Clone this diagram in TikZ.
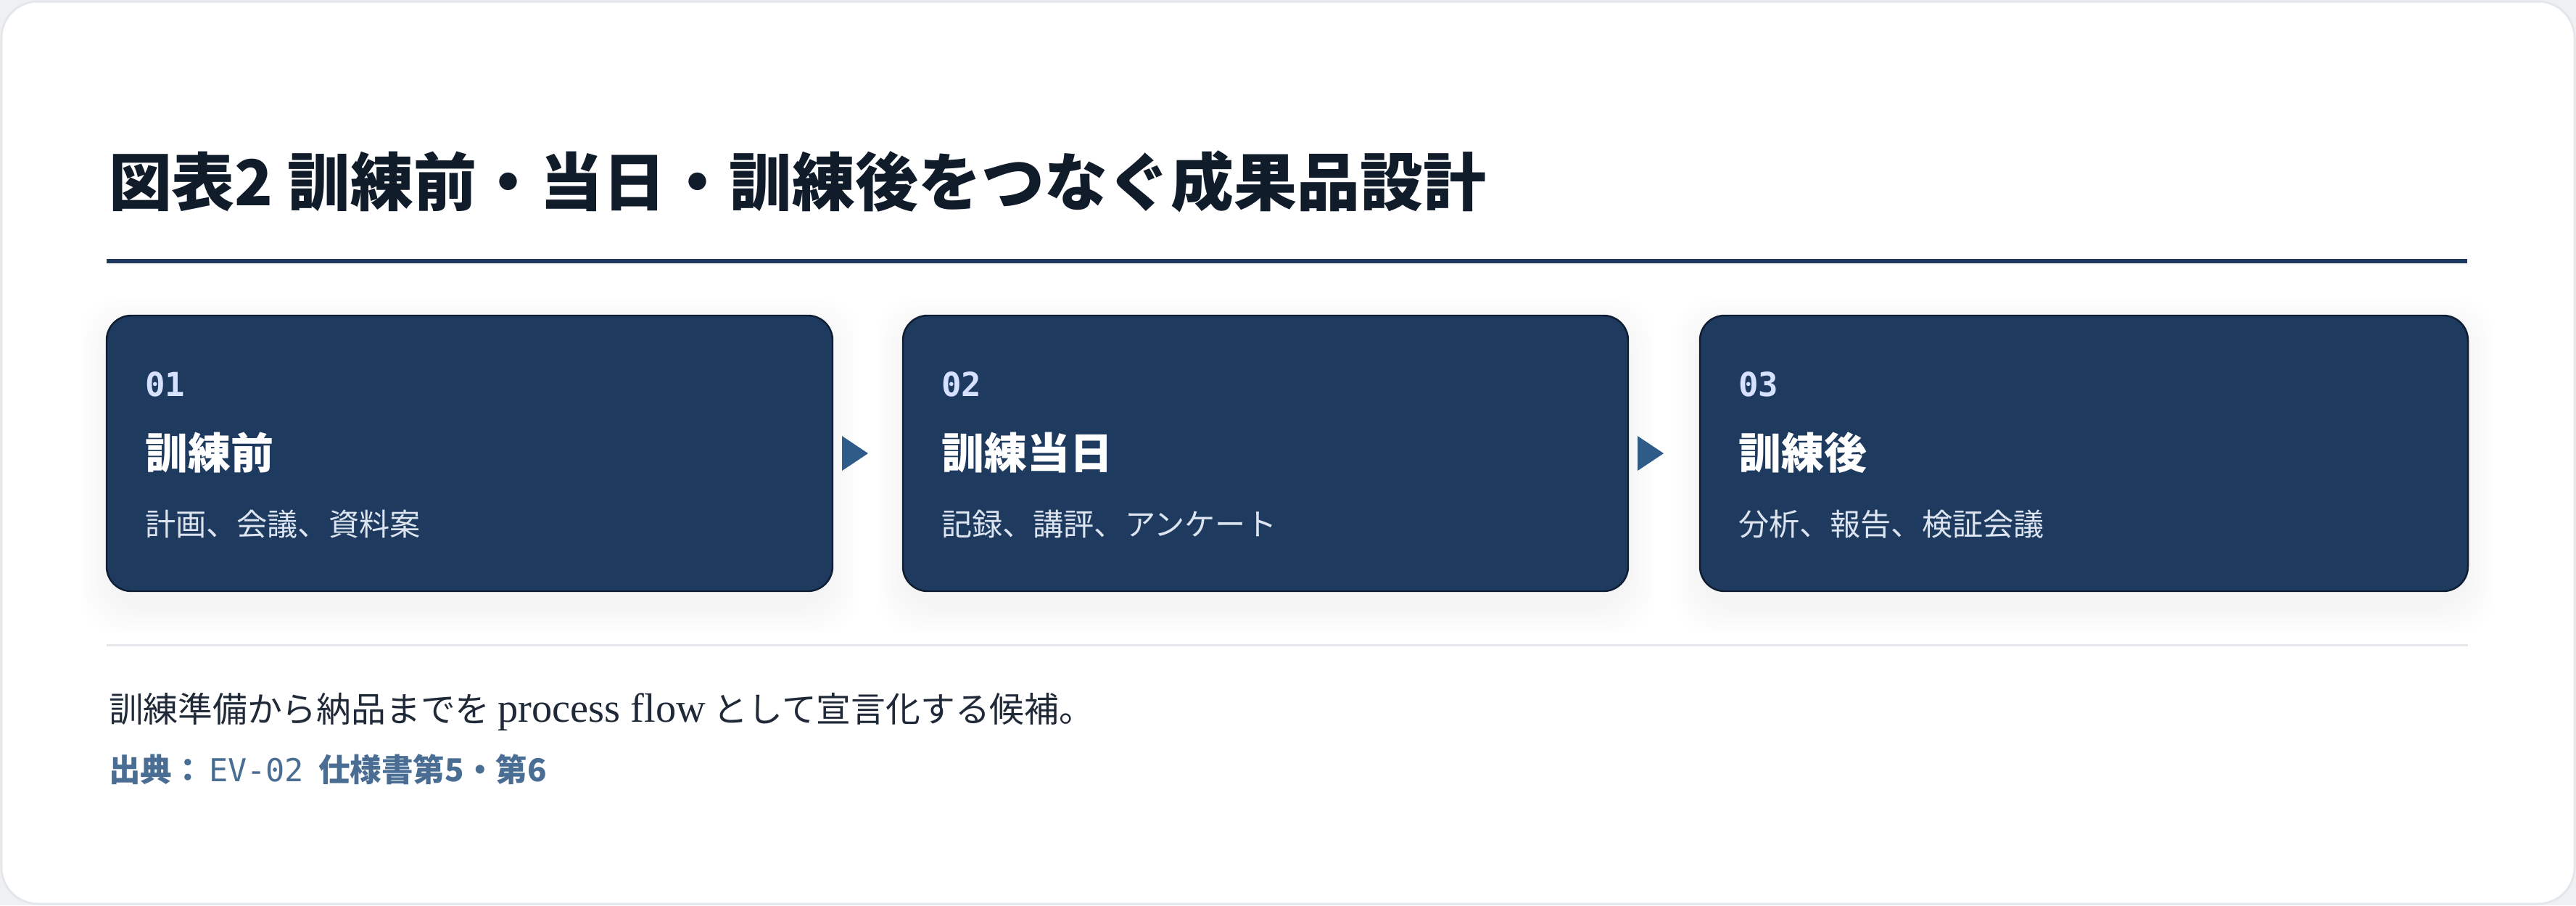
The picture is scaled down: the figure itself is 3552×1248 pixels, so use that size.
\documentclass[tikz,border=0pt]{standalone}
\usepackage{fontspec}
\newfontfamily\cjk{Noto Sans CJK JP}
\newfontfamily\monof{DejaVu Sans Mono}
\newfontfamily\serifl[Scale=1.18]{Liberation Serif}
\usetikzlibrary{calc}

\definecolor{pagegray}{HTML}{EEF0F2}
\definecolor{framegray}{HTML}{E3E6EA}
\definecolor{navy}{HTML}{1E3A5F}
\definecolor{navyedge}{HTML}{0F1E33}
\definecolor{flowblue}{HTML}{2F5B88}
\definecolor{titleink}{HTML}{111C2B}
\definecolor{capink}{HTML}{1F2937}
\definecolor{srcblue}{HTML}{4A6D94}
\definecolor{numink}{HTML}{D6E0FF}
\definecolor{subink}{HTML}{DCE4F0}
\definecolor{sepgray}{HTML}{E5E7EB}

\begin{document}
\begin{tikzpicture}[x=0.1mm,y=-0.1mm,
    card/.style={anchor=north west,minimum height=38mm,inner sep=0,outer sep=0,
      rounded corners=3.4mm,fill=navy,draw=navyedge,line width=0.7pt},
    haze/.style={black,opacity=0.0045,rounded corners=5mm},
    txt/.style={anchor=base west,inner sep=0,outer sep=0}]

  % page and frame
  \fill[pagegray] (0,0) rectangle (3552,1248);
  \useasboundingbox (0,0) rectangle (3552,1248);
  \draw[framegray,line width=0.85pt,fill=white,rounded corners=5mm] (2,2) rectangle (3550,1246);

  % title
  \node[txt,text=titleink,font=\cjk\bfseries\fontsize{24.75}{28}\selectfont] (title) at (150,283)
    {図表2 訓練前・当日・訓練後をつなぐ成果品設計};
  \draw[navy,line width=1.7pt] (147,360) -- (3402,360);

  % cards
  \foreach \n/\x/\w/\head/\sub in {1/147/100.1/訓練前/{計画、会議、資料案},
      2/1245/100/訓練当日/{記録、講評、アンケート},
      3/2344/105.9/訓練後/{分析、報告、検証会議}}{
    \foreach \k in {0,...,9}
      \fill[haze] ({\x-\k*4},{447-\k*4}) rectangle ({\x+\w*10+\k*4},{837+\k*4});
    \node[card,minimum width=\w mm] (card\n) at (\x,435) {};
    \node[txt,text=numink,font=\monof\bfseries\fontsize{13}{15}\selectfont] (num\n)
      at ($(card\n.north west)+(53,111)$) {0\n};
    \node[txt,text=white,font=\cjk\bfseries\fontsize{16.8}{19}\selectfont] (head\n)
      at ($(card\n.north west)+(53,211)$) {\head};
    \node[txt,text=subink,font=\cjk\fontsize{12}{14}\selectfont] (sub\n)
      at ($(card\n.north west)+(53,303)$) {\sub};
  }

  % flow marks
  \foreach \a/\b in {1/2,2/3}
    \fill[flowblue] ($(card\a.east)+(13,-24)$) -- ++(0,48) -- ++(36,-24) -- cycle;

  \draw[sepgray,line width=0.85pt] (147,889) -- (3403,889);

  % caption and source
  \node[txt,text=capink,font=\cjk\fontsize{13.6}{16}\selectfont] (caption) at (150,995)
    {訓練準備から納品までを {\serifl process flow} として宣言化する候補。};
  \node[txt,text=srcblue,font=\cjk\bfseries\fontsize{12.4}{14}\selectfont] (source) at (150,1077)
    {出典：\,{\monof\mdseries EV-02}\ \ 仕様書第5・第6};
\end{tikzpicture}
\end{document}
